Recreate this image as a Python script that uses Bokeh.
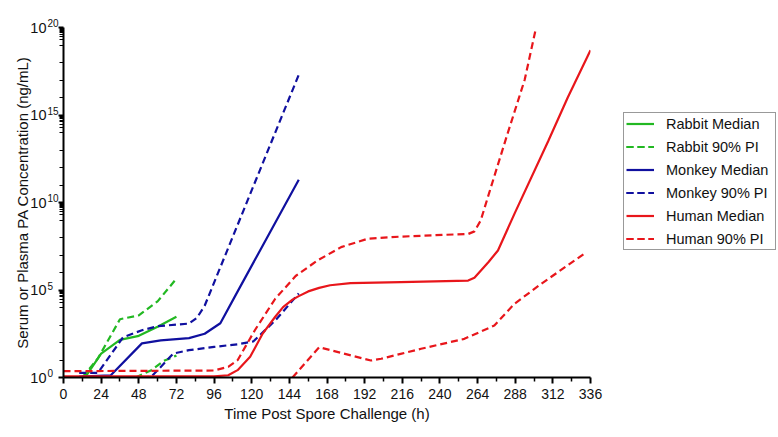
import numpy as np
from bokeh.plotting import figure
from bokeh.models import (FixedTicker, Legend, LegendItem, Label,
                          CustomJSTickFormatter, Range1d)
from bokeh.embed import file_html
from bokeh.resources import INLINE

# ---------------- data (hours, log10 of concentration in ng/mL) ----------------
rabbit_median_h = [14, 24, 36, 48, 60, 72]
rabbit_median_log = [0.04, 1.37, 2.15, 2.38, 2.90, 3.47]
rabbit_pi_hi_h = [12, 22, 36, 48, 60, 72]
rabbit_pi_hi_log = [0.0, 1.10, 3.33, 3.55, 4.35, 5.65]
rabbit_pi_lo_h = [46, 56, 64, 72]
rabbit_pi_lo_log = [0.0, 0.42, 0.95, 1.25]

monkey_median_h = [10, 30, 50, 62, 80, 90, 100, 110, 150]
monkey_median_log = [0.05, 0.12, 1.95, 2.12, 2.25, 2.50, 3.10, 4.75, 11.3]
monkey_pi_hi_h = [10, 22, 38, 50, 60, 80, 85, 90, 150]
monkey_pi_hi_log = [0.27, 0.27, 2.30, 2.70, 2.93, 3.08, 3.40, 4.10, 17.3]
monkey_pi_lo_h = [50, 56, 62, 70, 80, 96, 111, 121, 135, 150]
monkey_pi_lo_log = [0.0, 0.05, 0.60, 1.37, 1.56, 1.75, 1.90, 2.06, 3.26, 4.80]

human_median_h = [0, 96, 105, 111, 119, 127, 135, 140, 146, 150, 156, 163, 170, 183,
                  215, 258, 262, 266, 271, 277, 287.5, 309, 321.5, 336]
human_median_log = [0.06, 0.06, 0.13, 0.42, 1.18, 2.51, 3.47, 4.02, 4.45, 4.65, 4.92,
                    5.12, 5.27, 5.39, 5.45, 5.54, 5.70, 6.10, 6.60, 7.26, 9.35, 13.5,
                    16.0, 18.7]
human_pi_hi_h = [0, 96, 105, 111, 122, 135, 148, 162, 177, 194, 215, 242, 258, 262,
                 266, 272.6, 283, 294, 301.3]
human_pi_hi_log = [0.36, 0.40, 0.61, 0.99, 2.70, 4.50, 5.80, 6.69, 7.45, 7.93, 8.05,
                   8.15, 8.20, 8.35, 8.97, 10.9, 13.9, 17.0, 20.0]
human_pi_lo_h = [146, 163, 196, 202.5, 215, 228, 255.6, 274.7, 287.5, 304.5, 332]
human_pi_lo_log = [0.0, 1.73, 0.97, 1.07, 1.35, 1.64, 2.21, 2.97, 4.21, 5.35, 7.07]

x_ticks = [0, 24, 48, 72, 96, 120, 144, 168, 192, 216, 240, 264, 288, 312, 336]
y_tick_exponents = [0, 5, 10, 15, 20]
y_tick_base = "10"

legend_labels = ["Rabbit Median", "Rabbit 90% PI", "Monkey Median",
                 "Monkey 90% PI", "Human Median", "Human 90% PI"]

GREEN = "#22b822"
BLUE = "#10109f"
RED = "#e8161b"
FONT = "Liberation Sans"
TXT = "#111111"

FRAME_H = 350


def v(logs):
    return [10 ** l for l in logs]


p = figure(frame_width=527, frame_height=FRAME_H,
           min_border_left=62, min_border_right=189,
           min_border_top=27, min_border_bottom=60,
           y_axis_type="log",
           x_range=Range1d(0, 336), y_range=Range1d(1, 1e20),
           output_backend="svg", toolbar_location=None)
p.xgrid.visible = False
p.ygrid.visible = False
p.outline_line_color = None
p.background_fill_color = "white"
p.border_fill_color = "white"

# ---- x axis ----
xa = p.xaxis[0]
xa.ticker = FixedTicker(ticks=x_ticks,
                        minor_ticks=[t + 12 for t in x_ticks[:-1]])
xa.axis_label = "Time Post Spore Challenge (h)"
xa.axis_label_text_font = FONT
xa.axis_label_text_font_style = "normal"
xa.axis_label_text_font_size = "15px"
xa.axis_label_text_color = TXT
xa.axis_label_standoff = 3
xa.major_label_text_font = FONT
xa.major_label_text_font_size = "14px"
xa.major_label_text_color = TXT
xa.major_label_standoff = 5
xa.axis_line_width = 2
xa.axis_line_color = "black"
xa.major_tick_in = 0
xa.major_tick_out = 6
xa.major_tick_line_width = 2
xa.minor_tick_in = 0
xa.minor_tick_out = 4
xa.minor_tick_line_width = 1.5

# ---- y axis ----
ya = p.yaxis[0]
minor_y = []
for m in y_tick_exponents[1:]:
    minor_y += [k * 10.0 ** (m - 1) for k in range(2, 10)]
    minor_y += [10.0 ** (m - j) for j in (1, 2, 3, 4)]
ya.ticker = FixedTicker(ticks=[10.0 ** e for e in y_tick_exponents],
                        minor_ticks=minor_y)
ya.formatter = CustomJSTickFormatter(args=dict(base=y_tick_base),
                                     code="return base;")
ya.major_label_text_font = FONT
ya.major_label_text_font_size = "14.5px"
ya.major_label_text_color = TXT
ya.major_label_standoff = 12
ya.axis_label = "Serum or Plasma PA Concentration (ng/mL)"
ya.axis_label_text_font = FONT
ya.axis_label_text_font_style = "normal"
ya.axis_label_text_font_size = "15px"
ya.axis_label_text_color = TXT
ya.axis_label_standoff = -4
ya.axis_line_width = 2
ya.axis_line_color = "black"
ya.major_tick_in = 0
ya.major_tick_out = 5
ya.major_tick_line_width = 2
ya.minor_tick_in = 0
ya.minor_tick_out = 4
ya.minor_tick_line_width = 1.2

# superscript exponents of the y tick labels: one multi-line label whose line
# pitch equals the spacing of the major ticks (font line box ~1.1 x font size)
n_gaps = len(y_tick_exponents) - 1
exp_font_px = 10
pitch = FRAME_H / n_gaps
exp_text = "\n".join(str(e) for e in reversed(y_tick_exponents))
mid_exp = y_tick_exponents[len(y_tick_exponents) // 2]
p.add_layout(Label(x=0, y=10.0 ** mid_exp, x_offset=-16, y_offset=4,
                   text=exp_text, text_align="left", text_baseline="middle",
                   text_line_height=pitch / (exp_font_px * 1.1),
                   text_font=FONT, text_font_size=f"{exp_font_px}px",
                   text_color=TXT),
             "left")

# ---- lines ----
W = 2.2
DASH = "7 4"
r_rm = p.line(rabbit_median_h, v(rabbit_median_log), line_color=GREEN, line_width=W)
r_rh = p.line(rabbit_pi_hi_h, v(rabbit_pi_hi_log), line_color=GREEN, line_width=W, line_dash=DASH)
r_rl = p.line(rabbit_pi_lo_h, v(rabbit_pi_lo_log), line_color=GREEN, line_width=W, line_dash=DASH)
r_mm = p.line(monkey_median_h, v(monkey_median_log), line_color=BLUE, line_width=W)
r_mh = p.line(monkey_pi_hi_h, v(monkey_pi_hi_log), line_color=BLUE, line_width=W, line_dash=DASH)
r_ml = p.line(monkey_pi_lo_h, v(monkey_pi_lo_log), line_color=BLUE, line_width=W, line_dash=DASH)
r_hm = p.line(human_median_h, v(human_median_log), line_color=RED, line_width=W)
r_hh = p.line(human_pi_hi_h, v(human_pi_hi_log), line_color=RED, line_width=W, line_dash=DASH)
r_hl = p.line(human_pi_lo_h, v(human_pi_lo_log), line_color=RED, line_width=W, line_dash=DASH)

items = [
    LegendItem(label=legend_labels[0], renderers=[r_rm]),
    LegendItem(label=legend_labels[1], renderers=[r_rh, r_rl]),
    LegendItem(label=legend_labels[2], renderers=[r_mm]),
    LegendItem(label=legend_labels[3], renderers=[r_mh, r_ml]),
    LegendItem(label=legend_labels[4], renderers=[r_hm]),
    LegendItem(label=legend_labels[5], renderers=[r_hh, r_hl]),
]
legend = Legend(items=items, location=(33, 127), orientation="vertical",
                padding=2, spacing=6, margin=0,
                glyph_width=28, glyph_height=17, label_height=17,
                label_width=107,
                label_standoff=12, label_text_font=FONT,
                label_text_font_size="14.5px", label_text_color=TXT,
                border_line_color="#333333", border_line_width=1.2,
                background_fill_color="white", background_fill_alpha=1)
p.add_layout(legend, "right")

open("out.html", "w").write(file_html(p, INLINE))
